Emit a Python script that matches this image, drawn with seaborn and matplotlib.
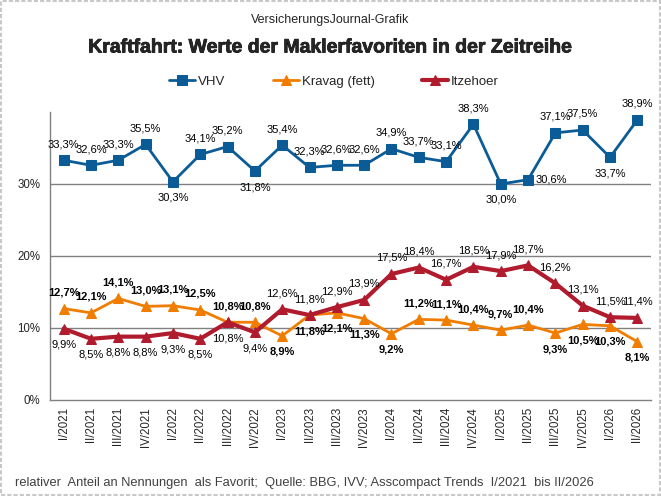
import matplotlib
matplotlib.use("Agg")
import matplotlib.pyplot as plt
import matplotlib.patheffects as pe
import seaborn as sns
import pandas as pd
from matplotlib.patches import Rectangle

# Daten
quartale = ["I/2021", "II/2021", "III/2021", "IV/2021", "I/2022", "II/2022", "III/2022", "IV/2022",
            "I/2023", "II/2023", "III/2023", "IV/2023", "I/2024", "II/2024", "III/2024", "IV/2024",
            "I/2025", "II/2025", "III/2025", "IV/2025", "I/2026", "II/2026"]
vhv = [33.3, 32.6, 33.3, 35.5, 30.3, 34.1, 35.2, 31.8, 35.4, 32.3, 32.6, 32.6,
       34.9, 33.7, 33.1, 38.3, 30.0, 30.6, 37.1, 37.5, 33.7, 38.9]
kravag = [12.7, 12.1, 14.1, 13.0, 13.1, 12.5, 10.8, 10.8, 8.9, 11.8, 12.1, 11.3,
          9.2, 11.2, 11.1, 10.4, 9.7, 10.4, 9.3, 10.5, 10.3, 8.1]
itzehoer = [9.9, 8.5, 8.8, 8.8, 9.3, 8.5, 10.8, 9.4, 12.6, 11.8, 12.9, 13.9,
            17.5, 18.4, 16.7, 18.5, 17.9, 18.7, 16.2, 13.1, 11.5, 11.4]

# Position der Beschriftungen: o = oben, u = unten, r = rechts
pos_vhv = "oooouoouoooooooouroouo"
pos_kravag = "oooooooouuuuuooooouuuu"
pos_itzehoer = "uuuuuuuuoooooooooooooo"

sns.set_style("white")
plt.rcParams["font.family"] = ["Liberation Sans", "DejaVu Sans"]

fig = plt.figure(figsize=(6.61, 4.96), dpi=100)
ax = fig.add_axes([50 / 661, 1 - 400 / 496, 601 / 661, 288 / 496])

idx = list(range(len(quartale)))
serien = [
    ("VHV", vhv, "#0B5C96", "s", 2.0, 6.5, pos_vhv, "normal"),
    ("Kravag (fett)", kravag, "#F07D00", "^", 2.0, 7.5, pos_kravag, "bold"),
    ("Itzehoer", itzehoer, "#B01C2E", "^", 3.0, 7.5, pos_itzehoer, "normal"),
]

for name, werte, farbe, marker, lw, ms, pos, gewicht in serien:
    df = pd.DataFrame({"x": idx, "y": werte})
    sns.lineplot(data=df, x="x", y="y", ax=ax, color=farbe, marker=marker, lw=lw,
                 markersize=ms, markeredgecolor=farbe, label=name, zorder=3)
    for i, v in enumerate(werte):
        p = pos[i]
        if p == "o":
            off, ha, va = (0, 11), "center", "bottom"
        elif p == "u":
            off, ha, va = (0, -11), "center", "top"
        else:
            off, ha, va = (7, 0), "left", "center"
        ax.annotate(f"{v:.1f}%".replace(".", ","), (i, v), xytext=off,
                    textcoords="offset pixels", ha=ha, va=va, fontsize=8,
                    fontweight=gewicht, color="black", zorder=4)

ax.set_xlim(-0.5, len(quartale) - 0.5)
ax.set_ylim(0, 40)
ax.set_yticks([0, 10, 20, 30])
ax.set_yticklabels(["0%", "10%", "20%", "30%"], fontsize=8.3)
ax.set_xticks(idx)
ax.set_xticklabels(quartale, rotation=90, fontsize=8.3)
ax.set_xticks([i - 0.5 for i in range(len(quartale) + 1)], minor=True)
ax.tick_params(axis="x", which="major", length=0, pad=5)
ax.tick_params(axis="x", which="minor", length=4, color="#808080", direction="out")
ax.tick_params(axis="y", length=4, color="#808080", direction="out", pad=3)
for y in [10, 20, 30]:
    ax.axhline(y, color="#808080", lw=1, zorder=1)
ax.set_xlabel("")
ax.set_ylabel("")
for s in ["top", "right"]:
    ax.spines[s].set_visible(False)
for s in ["left", "bottom"]:
    ax.spines[s].set_color("#808080")
    ax.spines[s].set_linewidth(1)

handles, labels = ax.get_legend_handles_labels()
ax.get_legend().remove()
fig.legend(handles, labels, loc="center", bbox_to_anchor=(0.505, 1 - 82 / 496), ncol=3,
           frameon=False, fontsize=9.5, columnspacing=3.6, handlelength=2.0, handletextpad=0.2)

fig.text(0.5, 1 - 20 / 496, "VersicherungsJournal-Grafik", ha="center", va="center", fontsize=9)
fig.text(0.5, 1 - 48 / 496, "Kraftfahrt: Werte der Maklerfavoriten in der Zeitreihe",
         ha="center", va="center", fontsize=14, fontweight="bold",
         path_effects=[pe.withStroke(linewidth=0.5, foreground="black")])
fig.text(15 / 661, 1 - 483 / 496,
         "relativer  Anteil an Nennungen  als Favorit;  Quelle: BBG, IVV; Asscompact Trends  I/2021  bis II/2026",
         ha="left", va="center", fontsize=9.3, color="#404040")

fig.patches.append(Rectangle((0.002, 0.002), 0.996, 0.996, transform=fig.transFigure,
                             fill=False, edgecolor="#c8c8c8", lw=1.5, ls=(0, (2, 1))))

fig.savefig("out.png", dpi=100)
